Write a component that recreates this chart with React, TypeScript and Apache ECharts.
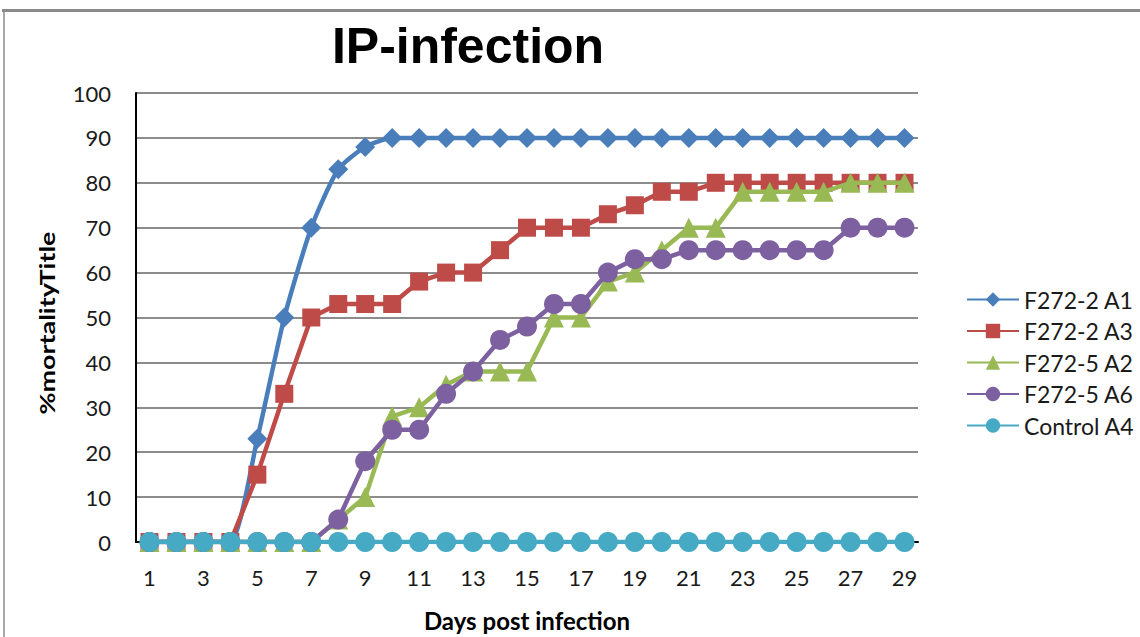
import React, { useEffect, useRef } from "react";
import * as echarts from "echarts";

const days = Array.from({ length: 29 }, (_, i) => String(i + 1));
const seriesNames = ["F272-2 A1", "F272-2 A3", "F272-5 A2", "F272-5 A6", "Control A4"];
const a1 = [0, 0, 0, 0, 23, 50, 70, 83, 88, 90, 90, 90, 90, 90, 90, 90, 90, 90, 90, 90, 90, 90, 90, 90, 90, 90, 90, 90, 90];
const a3 = [0, 0, 0, 0, 15, 33, 50, 53, 53, 53, 58, 60, 60, 65, 70, 70, 70, 73, 75, 78, 78, 80, 80, 80, 80, 80, 80, 80, 80];
const a2 = [0, 0, 0, 0, 0, 0, 0, 5, 10, 28, 30, 35, 38, 38, 38, 50, 50, 58, 60, 65, 70, 70, 78, 78, 78, 78, 80, 80, 80];
const a6 = [0, 0, 0, 0, 0, 0, 0, 5, 18, 25, 25, 33, 38, 45, 48, 53, 53, 60, 63, 63, 65, 65, 65, 65, 65, 65, 70, 70, 70];
const a4 = [0, 0, 0, 0, 0, 0, 0, 0, 0, 0, 0, 0, 0, 0, 0, 0, 0, 0, 0, 0, 0, 0, 0, 0, 0, 0, 0, 0, 0];
const yTicks = [0, 10, 20, 30, 40, 50, 60, 70, 80, 90, 100];

const colors = ["#4A7EBB", "#BE4B48", "#98B954", "#7D60A0", "#46AAC5"];
const symbols = ["diamond", "rect", "triangle", "circle", "circle"];
const sizes = [20, 18, 20, 20, 20];
const values = [a1, a3, a2, a6, a4];

export default function App() {
  const ref = useRef<HTMLDivElement>(null);
  useEffect(() => {
    const chart = echarts.init(ref.current!, null, { renderer: "svg" });
    const font = "Lato, 'Open Sans', sans-serif";
    chart.setOption({
      animation: false,
      backgroundColor: "#ffffff",
      grid: { left: 136, right: 222, top: 93, bottom: 88, containLabel: false },
      graphic: [
        { type: "line", shape: { x1: 2, y1: 10.5, x2: 1140, y2: 10.5 }, style: { stroke: "#8a8a8a", lineWidth: 3 } },
        { type: "line", shape: { x1: 4, y1: 10, x2: 4, y2: 637 }, style: { stroke: "#8a8a8a", lineWidth: 1.5 } },
        {
          type: "text",
          x: 468,
          y: 46,
          style: {
            text: "IP-infection",
            font: "bold 50px 'Liberation Sans', Arial, sans-serif",
            fill: "#000",
            textAlign: "center",
            textVerticalAlign: "middle",
          },
        },
        {
          type: "text",
          x: 47,
          y: 323,
          rotation: Math.PI / 2,
          scaleX: 1.28,
          style: {
            text: "%mortalityTitle",
            font: "bold 21px Lato, 'Open Sans', sans-serif",
            fill: "#000",
            textAlign: "center",
            textVerticalAlign: "middle",
          },
        },
      ],
      legend: {
        orient: "vertical",
        left: 961,
        top: 283,
        itemWidth: 52,
        itemHeight: 18,
        itemGap: 8.5,
        data: seriesNames,
        textStyle: { fontFamily: font, fontSize: 23, color: "#1a1a1a", lineHeight: 22 },
      },
      xAxis: {
        type: "category",
        data: days,
        boundaryGap: true,
        name: "Days post infection",
        nameLocation: "middle",
        nameGap: 66,
        nameTextStyle: { fontFamily: font, fontSize: 24, fontWeight: "bold", color: "#000" },
        axisLine: { lineStyle: { color: "#000", width: 2 } },
        axisTick: { show: false },
        axisLabel: { interval: 1, fontFamily: font, fontSize: 22, color: "#1a1a1a", margin: 24 },
        splitLine: { show: false },
      },
      yAxis: {
        type: "value",
        min: yTicks[0],
        max: yTicks[yTicks.length - 1],
        interval: 10,
        axisLine: { show: true, lineStyle: { color: "#000", width: 2 } },
        axisTick: { show: false },
        axisLabel: { fontFamily: font, fontSize: 22, color: "#1a1a1a", margin: 25 },
        splitLine: { show: true, lineStyle: { color: "#8c8c8c", width: 2 } },
      },
      series: seriesNames.map((name, i) => ({
        name,
        type: "line",
        data: values[i],
        smooth: i === 0 ? 0.2 : false,
        symbol: symbols[i],
        symbolSize: sizes[i],
        showAllSymbol: true,
        lineStyle: { color: colors[i], width: 4.5 },
        itemStyle: { color: colors[i] },
        z: 2 + i,
      })),
    });
    return () => chart.dispose();
  }, []);
  return <div ref={ref} style={{ position: "absolute", left: 0, top: 0, width: 1140, height: 637 }} />;
}
